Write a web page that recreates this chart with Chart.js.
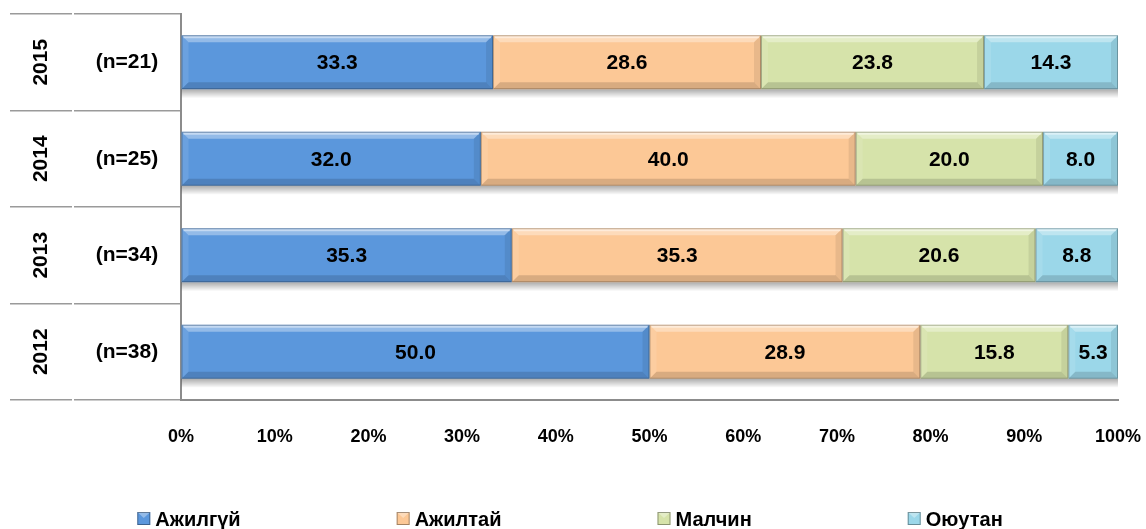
<!DOCTYPE html>
<html>
<head>
<meta charset="utf-8">
<script src="https://cdn.jsdelivr.net/npm/chart.js@4"></script>
<style>
  html, body { margin: 0; padding: 0; background: #fff; }
  #wrap { width: 1146px; height: 529px; }
</style>
</head>
<body>
<div id="wrap"><canvas id="chart" width="1146" height="529"></canvas></div>
<script>
// years, top to bottom, and sample size per year
const years = ['2015', '2014', '2013', '2012'];
const sampleSizes = ['(n=21)', '(n=25)', '(n=34)', '(n=38)'];

// share of each group, %
const seriesNames = ['Ажилгүй', 'Ажилтай', 'Малчин', 'Оюутан'];
const unemployed = [33.3, 32.0, 35.3, 50.0];
const employed = [28.6, 40.0, 35.3, 28.9];
const herders = [23.8, 20.0, 20.6, 15.8];
const students = [14.3, 8.0, 8.8, 5.3];

const xTicks = [0, 10, 20, 30, 40, 50, 60, 70, 80, 90, 100];

const colors = ['#5b97dc', '#fcc896', '#d6e3aa', '#9bd7e9'];
const FONT = '"Liberation Sans", Arial, sans-serif';

// soft shadow under each whole bar
const shadowPlugin = {
  id: 'barShadow',
  beforeDatasetsDraw(chart) {
    const ctx = chart.ctx;
    const first = chart.getDatasetMeta(0).data;
    const last = chart.getDatasetMeta(chart.data.datasets.length - 1).data;
    first.forEach((bar, i) => {
      const left = bar.base;
      const right = last[i].x;
      const bottom = bar.y + bar.height / 2;
      const g = ctx.createLinearGradient(0, bottom, 0, bottom + 9);
      g.addColorStop(0, 'rgba(0,0,0,0.32)');
      g.addColorStop(1, 'rgba(0,0,0,0)');
      ctx.save();
      ctx.fillStyle = g;
      ctx.fillRect(left, bottom, right - left, 9);
      ctx.restore();
    });
  }
};

// bevelled edges and value labels on each segment
const bevelPlugin = {
  id: 'bevel',
  afterDatasetsDraw(chart) {
    const ctx = chart.ctx;
    const b = 7;
    chart.data.datasets.forEach((ds, di) => {
      chart.getDatasetMeta(di).data.forEach((bar, i) => {
        const l = bar.base, r = bar.x;
        const t = bar.y - bar.height / 2, bt = bar.y + bar.height / 2;
        const poly = (pts, fill) => {
          ctx.beginPath();
          ctx.moveTo(pts[0][0], pts[0][1]);
          pts.slice(1).forEach(p => ctx.lineTo(p[0], p[1]));
          ctx.closePath();
          ctx.fillStyle = fill;
          ctx.fill();
        };
        ctx.save();
        poly([[l, t], [r, t], [r - b, t + b], [l + b, t + b]], 'rgba(255,255,255,0.35)');
        poly([[l, t], [l + b, t + b], [l + b, bt - b], [l, bt]], 'rgba(255,255,255,0.10)');
        poly([[l, bt], [l + b, bt - b], [r - b, bt - b], [r, bt]], 'rgba(0,0,0,0.14)');
        poly([[r, t], [r, bt], [r - b, bt - b], [r - b, t + b]], 'rgba(0,0,0,0.08)');
        // thin highlight line near the top
        ctx.fillStyle = 'rgba(255,255,255,0.45)';
        ctx.fillRect(l + 2, t + 1, r - l - 4, 2);
        // darker outline
        ctx.strokeStyle = 'rgba(0,0,0,0.25)';
        ctx.lineWidth = 1;
        ctx.strokeRect(l + 0.5, t + 0.5, r - l - 1, bt - t - 1);

        ctx.fillStyle = '#000';
        ctx.font = 'bold 21px ' + FONT;
        ctx.textAlign = 'center';
        ctx.textBaseline = 'middle';
        ctx.fillText(ds.data[i].toFixed(1), (l + r) / 2, bar.y + 1);
        ctx.restore();
      });
    });
  }
};

// year (rotated) and sample size left of the axis
const sideLabels = {
  id: 'sideLabels',
  afterDraw(chart) {
    const ctx = chart.ctx;
    const yScale = chart.scales.y;
    ctx.save();
    ctx.fillStyle = '#000';
    ctx.font = 'bold 21px ' + FONT;
    ctx.textAlign = 'center';
    ctx.textBaseline = 'middle';
    years.forEach((yr, i) => {
      const y = yScale.getPixelForValue(i);
      ctx.fillText(sampleSizes[i], 127, y);
      ctx.save();
      ctx.translate(40, y);
      ctx.rotate(-Math.PI / 2);
      ctx.fillText(yr, 0, 1);
      ctx.restore();
    });
    // small break between the two label columns
    ctx.fillStyle = '#fff';
    ctx.fillRect(72, yScale.top - 2, 2, yScale.bottom - yScale.top + 4);
    ctx.restore();
  }
};

// legend spread along the bottom
const bottomLegend = {
  id: 'bottomLegend',
  afterDraw(chart) {
    const ctx = chart.ctx;
    const box = 13, gapText = 5, gapItem = 156;
    ctx.save();
    ctx.font = 'bold 20px ' + FONT;
    const widths = seriesNames.map(n => box + gapText + ctx.measureText(n).width);
    const total = widths.reduce((a, w) => a + w, 0) + gapItem * (widths.length - 1);
    let x = (chart.width - total) / 2 - 3;
    const cy = 519;
    seriesNames.forEach((name, i) => {
      ctx.fillStyle = colors[i];
      ctx.fillRect(x, cy - 7, box, box);
      ctx.fillStyle = 'rgba(255,255,255,0.35)';
      ctx.beginPath();
      ctx.moveTo(x, cy - 7); ctx.lineTo(x + box, cy - 7); ctx.lineTo(x + box / 2, cy - 1);
      ctx.closePath(); ctx.fill();
      ctx.strokeStyle = 'rgba(0,0,0,0.35)';
      ctx.lineWidth = 1;
      ctx.strokeRect(x + 0.5, cy - 6.5, box - 1, box - 1);
      ctx.fillStyle = '#000';
      ctx.textAlign = 'left';
      ctx.textBaseline = 'middle';
      ctx.fillText(name, x + box + gapText, cy + 1);
      x += widths[i] + gapItem;
    });
    ctx.restore();
  }
};

const seriesData = [unemployed, employed, herders, students];

new Chart(document.getElementById('chart'), {
  type: 'bar',
  data: {
    labels: years,
    datasets: seriesNames.map((name, i) => ({
      label: name,
      data: seriesData[i],
      backgroundColor: colors[i],
      borderWidth: 0,
      categoryPercentage: 1,
      barPercentage: 0.56
    }))
  },
  options: {
    indexAxis: 'y',
    responsive: false,
    animation: false,
    layout: { padding: { left: 10, right: 28, top: 14, bottom: 0 } },
    plugins: {
      legend: { display: false },
      tooltip: { enabled: false }
    },
    scales: {
      x: {
        stacked: true,
        min: 0,
        max: 100,
        afterBuildTicks(scale) {
          scale.ticks = xTicks.map(v => ({ value: v }));
        },
        afterFit(scale) {
          scale.height = 129;
          scale.paddingLeft = 0;
          scale.paddingRight = 0;
        },
        grid: { drawOnChartArea: false, drawTicks: false },
        border: { display: true, color: '#8c8c8c', width: 2 },
        ticks: {
          padding: 26,
          color: '#000',
          font: { family: FONT, size: 18, weight: 'bold' },
          callback: v => v + '%'
        }
      },
      y: {
        stacked: true,
        afterFit(scale) { scale.width = 171; },
        grid: {
          drawOnChartArea: false,
          drawTicks: true,
          tickLength: 171,
          color: '#9a9a9a',
          lineWidth: 1.5
        },
        border: { display: true, color: '#8c8c8c', width: 2 },
        ticks: { display: false }
      }
    }
  },
  plugins: [shadowPlugin, bevelPlugin, sideLabels, bottomLegend]
});
</script>
</body>
</html>
